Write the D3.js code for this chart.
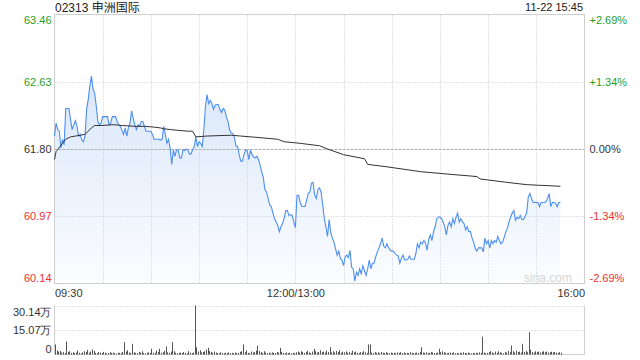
<!DOCTYPE html>
<html><head><meta charset="utf-8">
<script src="https://cdn.jsdelivr.net/npm/d3@7"></script>
<style>
html,body{margin:0;padding:0;background:#fff;}
svg{display:block;font-family:"Liberation Sans",Arial,"Noto Sans CJK SC",sans-serif;}
</style></head><body>
<svg id="c" width="640" height="360"></svg>
<script>
const title = "02313 申洲国际";
const stamp = "11-22 15:45";
const prevClose = 61.80;
const priceTicks = [63.46, 62.63, 61.80, 60.97, 60.14];
const pctTicks = ["+2.69%", "+1.34%", "0.00%", "-1.34%", "-2.69%"];
const timeTicks = [0, 150, 330];
const timeLabels = ["09:30", "12:00/13:00", "16:00"];
const gridMinutes = [30, 60, 90, 120, 150, 180, 210, 240, 270, 300];
const volTicks = [30.14, 15.07, 0];
const volLabels = ["30.14万", "15.07万", "0"];

// one price per trading minute, 09:30 .. 15:45
const prices = [
61.96,62.12,62.04,62.02,61.81,61.92,61.85,62.30,62.30,62.30,
62.16,62.04,62.10,62.15,62.08,61.96,61.98,61.91,61.89,61.96,
62.29,62.41,62.58,62.70,62.54,62.49,62.33,62.14,62.10,62.12,
62.20,62.20,62.20,62.20,62.10,62.12,62.20,62.20,62.20,62.14,
62.10,62.08,62.03,61.98,62.06,61.96,62.06,62.12,62.27,62.18,
62.10,62.04,62.10,62.08,62.14,62.14,62.08,62.02,62.02,62.02,
62.02,61.98,61.92,61.92,61.92,61.92,61.91,61.92,62.08,61.98,
61.87,61.92,61.81,61.61,61.79,61.71,61.79,61.79,61.69,61.69,
61.79,61.78,61.80,61.79,61.74,61.74,61.79,61.83,61.95,61.83,
61.89,61.87,61.83,62.04,62.33,62.47,62.36,62.40,62.36,62.29,
62.34,62.35,62.35,62.29,
62.25,62.30,62.28,62.20,62.14,62.04,62.00,61.99,61.94,61.84,
61.83,61.73,61.65,61.65,61.73,61.79,61.78,61.67,61.79,61.73,
61.70,61.69,61.71,61.67,61.60,61.52,61.45,61.30,61.27,61.19,
61.11,61.09,61.01,60.94,60.90,60.86,60.78,60.84,60.88,60.94,
61.04,61.04,60.98,60.99,60.98,60.90,60.83,61.23,
61.23,61.14,61.09,61.09,61.09,61.17,61.25,61.27,61.38,61.39,61.23,61.19,61.30,61.32,61.27,61.11,60.94,60.84,
60.72,60.93,60.77,60.70,60.65,60.57,60.49,60.54,60.45,60.43,60.36,60.47,60.49,60.46,60.55,60.34,60.32,60.17,
60.28,60.24,60.32,60.26,60.36,60.30,60.24,60.32,60.43,60.32,60.39,60.39,60.47,60.53,60.58,60.63,60.70,60.60,60.58,60.63,60.58,60.55,60.54,60.54,
60.51,60.49,60.48,60.39,60.45,60.49,60.43,60.43,60.44,60.48,60.44,60.44,60.44,60.51,60.63,60.58,60.65,60.63,60.67,60.64,60.55,60.68,60.74,60.67,60.78,60.84,60.94,60.96,60.96,60.94,60.90,
60.84,60.74,60.86,60.90,60.84,60.94,60.88,60.96,61.01,60.90,
60.94,60.90,60.88,60.80,60.84,60.78,60.78,60.70,60.65,60.57,
60.54,60.58,60.58,60.58,60.53,60.70,60.63,60.67,60.58,60.67,
60.63,60.67,60.65,60.72,60.67,60.63,60.65,60.71,60.78,60.82,
60.90,60.96,61.01,61.04,60.92,60.96,60.94,60.98,60.93,60.93,
60.97,61.01,61.21,61.25,61.19,61.14,61.14,61.14,61.14,61.09,
61.14,61.14,61.14,61.15,61.19,61.25,61.09,61.14,61.14,61.13,
61.09,61.14,61.14
];

// average price line readings (minute offset, price)
const avgMinutes = [0,1,2,3,5,7,10,13,16,19,21,23,25,29,37,42,50,56,62,66,68,72,77,83,86,88,95,110,116,128,139,143,153,165,170,180,193,195,207,228,245,263,265,281,294,315];
const avgPrices = [61.67,61.77,61.79,61.82,61.87,61.92,61.95,61.96,61.97,61.98,62.02,62.06,62.09,62.09,62.10,62.09,62.08,62.08,62.07,62.06,62.05,62.04,62.03,62.02,62.02,61.95,61.96,61.97,61.96,61.94,61.92,61.89,61.87,61.84,61.80,61.73,61.68,61.61,61.58,61.52,61.49,61.46,61.43,61.39,61.36,61.34];

// volume per minute (万)
const volumes = [
6.2,2.5,1.8,2.2,1.2,1.5,0.8,8.0,1.6,2.0,1.0,1.4,0.9,1.2,2.4,1.1,0.7,1.3,2.0,1.5,
2.9,1.2,1.8,3.1,2.2,1.0,0.8,1.5,1.2,0.9,1.6,1.1,0.7,0.9,1.4,1.0,1.2,0.8,0.6,1.1,
1.0,0.9,1.5,7.6,1.8,2.6,1.2,0.9,6.6,1.4,1.0,0.8,1.5,1.2,2.0,0.9,0.7,1.1,1.3,1.0,
3.5,1.2,1.0,2.4,1.6,3.5,1.0,1.4,2.2,4.9,1.3,1.0,1.8,7.6,2.0,1.1,0.8,1.0,1.2,0.9,
1.5,1.0,0.8,2.0,1.1,0.9,1.2,30.14,4.4,1.8,2.6,1.2,1.5,2.0,3.0,4.1,2.2,1.5,1.0,1.8,
1.2,0.9,0.7,1.4,1.0,0.8,1.1,0.9,1.3,0.8,1.0,0.7,1.2,0.9,1.0,1.6,2.0,6.2,1.4,2.5,
1.0,0.8,1.8,1.2,1.5,2.4,5.5,2.2,1.4,1.0,2.0,1.2,0.9,1.1,0.8,1.3,1.0,0.9,1.6,1.2,
4.1,1.6,1.0,0.8,1.2,0.9,1.1,0.7,1.0,0.9,1.4,1.8,1.2,2.0,1.5,1.0,1.6,2.2,1.3,1.0,
1.8,3.5,2.0,1.2,1.5,2.6,1.4,1.8,1.1,2.4,1.6,4.5,1.3,2.0,1.2,2.2,1.5,2.6,1.0,1.8,
1.4,1.9,1.2,1.6,1.0,2.4,1.3,1.8,1.1,0.9,1.5,1.2,2.0,1.4,1.0,6.2,6.2,1.2,0.9,1.5,
1.0,1.3,0.8,1.6,1.1,0.9,1.4,1.0,0.7,1.2,0.9,1.1,0.8,1.3,1.0,1.5,0.9,1.2,0.8,1.0,
0.9,1.4,1.1,0.8,1.0,1.2,0.9,1.6,4.5,1.2,1.0,1.4,0.9,1.1,1.6,1.3,0.9,1.0,1.2,3.5,
1.5,2.0,1.4,1.1,0.8,1.0,1.2,0.9,1.3,0.8,1.0,0.7,1.1,0.9,1.4,1.0,0.8,1.2,0.9,0.7,
1.0,0.8,1.1,0.9,1.3,1.0,11.0,1.2,0.8,1.0,1.5,2.0,1.2,0.9,1.8,1.0,2.0,1.4,1.0,0.8,
1.5,1.2,2.2,1.4,5.5,2.0,1.3,2.4,1.5,1.8,1.2,6.6,1.5,2.2,1.4,13.7,3.0,1.6,1.2,2.0,
1.5,1.8,1.2,1.6,2.0,1.4,1.8,1.2,1.5,1.7,1.3,1.6,1.2,1.0,1.4,1.1
];

const GREEN = "#1f9e1f", RED = "#ee3030", DARK = "#333";
const svg = d3.select("#c");
const L = 54.5, R = 584.5, T = 14.5, B = 283.5;
const VT = 305.5, VB = 354.5;
const x = d3.scaleLinear().domain([0, 330]).range([L, R]);
const y = d3.scaleLinear().domain([60.14, 63.46]).range([B, T]);
const yv = d3.scaleLinear().domain([0, 30.14]).range([VB, VT]);

const defs = svg.append("defs");
const grad = defs.append("linearGradient").attr("id", "g").attr("gradientUnits", "userSpaceOnUse")
  .attr("x1", 0).attr("y1", T).attr("x2", 0).attr("y2", B);
grad.append("stop").attr("offset", 0).attr("stop-color", "#cfe0f8");
grad.append("stop").attr("offset", 0.45).attr("stop-color", "#e3edfb");
grad.append("stop").attr("offset", 1).attr("stop-color", "#fbfdff");

// area & grid
svg.append("path").datum(prices)
  .attr("d", d3.area().x((d, i) => x(i)).y0(B).y1(d => y(d)))
  .attr("fill", "url(#g)");

const grid = svg.append("g");
grid.selectAll("line.v").data(gridMinutes).join("line")
  .attr("x1", d => Math.round(x(d)) + 0.5).attr("x2", d => Math.round(x(d)) + 0.5)
  .attr("y1", T).attr("y2", B).attr("stroke", "#c8c8c8").attr("stroke-dasharray", "1,2");
grid.selectAll("line.h").data(priceTicks.slice(1, 4)).join("line")
  .attr("x1", L).attr("x2", R)
  .attr("y1", d => Math.round(y(d)) + 0.5).attr("y2", d => Math.round(y(d)) + 0.5)
  .attr("stroke", d => d === prevClose ? "#b0b0b0" : "#c8c8c8")
  .attr("stroke-dasharray", d => d === prevClose ? "3,1" : "1,2");

svg.append("rect").attr("x", L).attr("y", T).attr("width", R - L).attr("height", B - T)
  .attr("fill", "none").attr("stroke", "#cfcfcf");

svg.append("text").attr("x", 572).attr("y", 282).attr("text-anchor", "end")
  .attr("font-size", 12).attr("fill", "#d6d6d6").text("sina.com");

// lines
svg.append("path").datum(prices)
  .attr("d", d3.line().x((d, i) => x(i)).y(d => y(d)))
  .attr("fill", "none").attr("stroke", "#4d8ef0").attr("stroke-width", 1.1);
svg.append("path").datum(avgPrices)
  .attr("d", d3.line().x((d, i) => x(avgMinutes[i])).y(d => y(d)))
  .attr("fill", "none").attr("stroke", "#333").attr("stroke-width", 1);

// axes
function styleAxis(g) { g.select(".domain").remove(); g.selectAll("text").attr("font-size", 11).attr("font-family", null); }
const colorFor = v => v > prevClose ? GREEN : (v < prevClose ? RED : DARK);
const shift = (d, i, n) => i === 0 ? 5.5 : (i === n - 1 ? -5.5 : 0);

const la = svg.append("g").attr("transform", `translate(${L},0)`)
  .call(d3.axisLeft(y).tickValues(priceTicks).tickSize(0).tickPadding(3).tickFormat(d3.format(".2f")));
styleAxis(la);
la.selectAll("text").attr("fill", d => colorFor(d)).attr("dy", (d, i) => (0.32 * 11 + shift(d, i, 5)) + "px");

const ra = svg.append("g").attr("transform", `translate(${R},0)`)
  .call(d3.axisRight(y).tickValues(priceTicks).tickSize(0).tickPadding(5).tickFormat((d, i) => pctTicks[i]));
styleAxis(ra);
ra.selectAll("text").attr("fill", d => colorFor(d)).attr("dy", (d, i) => (0.32 * 11 + shift(d, i, 5)) + "px");

const xa = svg.append("g").attr("transform", `translate(0,${B})`)
  .call(d3.axisBottom(x).tickValues(timeTicks).tickSize(0).tickPadding(6).tickFormat((d, i) => timeLabels[i]));
styleAxis(xa);
xa.selectAll("text").attr("fill", DARK)
  .attr("text-anchor", (d, i) => i === 0 ? "start" : (i === 2 ? "end" : "middle"));

// volume panel
svg.append("g").selectAll("line").data(volTicks.slice(0, 2)).join("line")
  .attr("x1", L).attr("x2", R).attr("y1", d => Math.round(yv(d)) + 0.5).attr("y2", d => Math.round(yv(d)) + 0.5)
  .attr("stroke", "#c8c8c8").attr("stroke-dasharray", "1,2");
svg.append("line").attr("x1", L).attr("x2", L).attr("y1", VT).attr("y2", VB).attr("stroke", "#cfcfcf");
svg.append("line").attr("x1", R).attr("x2", R).attr("y1", VT).attr("y2", VB).attr("stroke", "#cfcfcf");
svg.append("line").attr("x1", L).attr("x2", R).attr("y1", VB).attr("y2", VB).attr("stroke", "#cfcfcf");

svg.append("g").selectAll("line").data(volumes).join("line")
  .attr("x1", (d, i) => Math.round(x(i) + 0.5) + 0.5).attr("x2", (d, i) => Math.round(x(i) + 0.5) + 0.5)
  .attr("y1", VB).attr("y2", d => yv(d))
  .attr("stroke", "#555").attr("stroke-width", 1);

const va = svg.append("g").attr("transform", `translate(${L},0)`)
  .call(d3.axisLeft(yv).tickValues(volTicks).tickSize(0).tickPadding(3).tickFormat((d, i) => volLabels[i]));
styleAxis(va);
va.selectAll("text").attr("fill", DARK)
  .attr("dy", (d, i) => (0.32 * 11 + (i === 0 ? 6 : (i === 2 ? -6 : 0))) + "px");

// header
svg.append("text").attr("x", 55).attr("y", 11.5).attr("font-size", 12).attr("fill", "#222").text(title);
svg.append("text").attr("x", 583).attr("y", 11).attr("font-size", 11).attr("text-anchor", "end").attr("fill", "#222").text(stamp);
</script>
</body></html>
